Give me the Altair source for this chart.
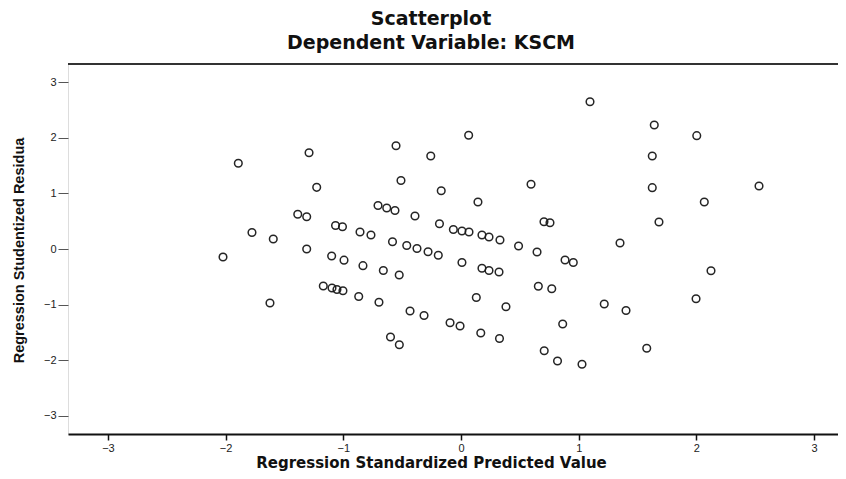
import altair as alt
import pandas as pd

# Regression Standardized Predicted Value
pred = [-1.892, -1.291, -0.552, -0.257, 0.065, 1.096, 1.642, 2.003, 1.625, -1.226,
        -0.510, -0.168, 0.144, 0.595, 1.625, 2.532, 2.067, -1.387, -1.311, -0.705,
        -0.631, -0.561, -0.391, -0.183, -0.065, 0.008, 0.068, 0.178, 0.238, 0.331,
        0.489, 0.646, 0.705, 0.756, 1.682, 1.351, -1.776, -1.595, -1.066, -1.007,
        -0.858, -0.765, -2.022, -1.311, -1.099, -0.994, -0.833, -0.660, -0.525, -0.582,
        -0.461, -0.374, -0.280, -0.193, 0.008, 0.178, 0.238, 0.323, 0.884, 0.954,
        2.124, -1.623, -1.170, -1.096, -1.054, -1.003, -0.869, -0.697, -0.433, -0.314,
        -0.093, -0.008, 0.168, 0.327, 0.130, 0.382, 0.657, 0.771, 1.997, 1.217,
        1.402, 0.864, -0.599, -0.524, 0.707, 0.820, 1.028, 1.578]

# Regression Studentized Residual
resid = [1.541, 1.732, 1.858, 1.673, 2.045, 2.649, 2.230, 2.038, 1.673, 1.109,
         1.232, 1.047, 0.845, 1.164, 1.103, 1.133, 0.845, 0.626, 0.581, 0.782,
         0.737, 0.692, 0.594, 0.455, 0.351, 0.324, 0.306, 0.252, 0.216, 0.162,
         0.054, -0.054, 0.491, 0.473, 0.486, 0.108, 0.297, 0.180, 0.423, 0.401,
         0.306, 0.252, -0.144, 0.000, -0.126, -0.201, -0.300, -0.387, -0.468, 0.131,
         0.063, 0.009, -0.049, -0.113, -0.243, -0.347, -0.387, -0.414, -0.198, -0.243,
         -0.390, -0.971, -0.665, -0.701, -0.728, -0.750, -0.854, -0.957, -1.115, -1.196,
         -1.326, -1.385, -1.511, -1.610, -0.872, -1.038, -0.671, -0.714, -0.894, -0.989,
         -1.106, -1.349, -1.583, -1.721, -1.831, -2.014, -2.072, -1.786]

x_ticks = [-3, -2, -1, 0, 1, 2, 3]
y_ticks = [-3, -2, -1, 0, 1, 2, 3]

df = pd.DataFrame({"pred": pred, "resid": resid})

W, H = 770, 370
FONT = "Liberation Sans"
WIDE = "DejaVu Sans"

points = alt.Chart(df).mark_point(
    shape="circle", filled=False, size=58, strokeWidth=1.5, color="#1a1a1a", opacity=0.95
).encode(
    x=alt.X("pred:Q",
            scale=alt.Scale(domain=[-3.339, 3.203], nice=False, zero=False),
            axis=alt.Axis(values=x_ticks, title="Regression Standardized Predicted Value",
                          grid=False, domainColor="#111111", domainWidth=2,
                          tickColor="#111111", tickSize=6, tickWidth=1.5,
                          labelFont=FONT, labelFontSize=11, labelColor="#222222",
                          labelPadding=2,
                          titleFont=WIDE, titleFontSize=15, titleFontWeight="bold",
                          titleColor="#111111", titleX=363, titleY=21)),
    y=alt.Y("resid:Q",
            scale=alt.Scale(domain=[-3.327, 3.327], nice=False, zero=False),
            axis=alt.Axis(values=y_ticks, title="Regression Studentized Residua",
                          grid=False, domain=False,
                          tickColor="#555555", tickSize=10, tickWidth=1,
                          labelFont=FONT, labelFontSize=11, labelColor="#222222",
                          labelPadding=2,
                          titleFont=FONT, titleFontSize=14.5, titleFontWeight="bold",
                          titleColor="#111111", titleX=-49, titleY=186,
                          titleAngle=270, titleAlign="center", titleBaseline="middle")),
)

top_line = alt.Chart(df).mark_rule(color="#333333", strokeWidth=2).encode(
    x=alt.value(0), x2=alt.value(W), y=alt.value(0)
)

chart = alt.layer(points, top_line).properties(
    width=W, height=H,
    title=alt.TitleParams(
        text=["Scatterplot", "Dependent Variable: KSCM"],
        font=WIDE, fontSize=19, fontWeight="bold", color="#111111",
        lineHeight=24, anchor="middle", frame="group", dx=-22, offset=10
    ),
    autosize=alt.AutoSizeParams(type="none"),
    padding={"left": 60, "top": 56, "right": 0, "bottom": 37},
).configure_view(
    stroke=None, fill="#f0f0f0"
).configure(background="white")

chart.save("out.html", embed_options={"renderer": "svg", "actions": False})
